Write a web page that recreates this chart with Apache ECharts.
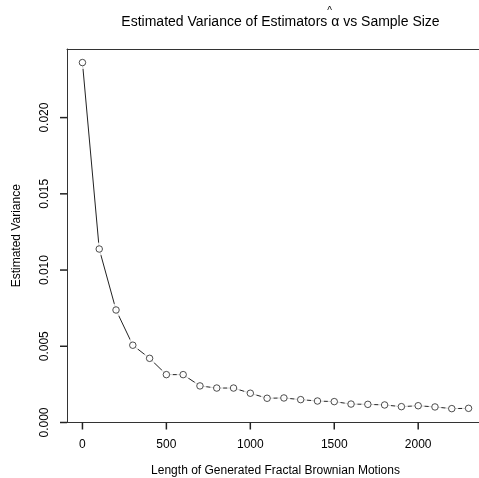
<!DOCTYPE html>
<html>
<head>
<meta charset="utf-8">
<script src="https://cdn.jsdelivr.net/npm/echarts@6/dist/echarts.min.js"></script>
<style>html,body{margin:0;padding:0;background:#fff}#c{width:479px;height:478px}</style>
</head>
<body>
<div id="c"></div>
<script>
var sampleSizes = [0,100,200,300,400,500,600,700,800,900,1000,1100,1200,1300,1400,1500,1600,1700,1800,1900,2000,2100,2200,2300];
var variances = [0.02361,0.01138,0.00738,0.00507,0.00421,0.00314,0.00314,0.00240,0.00226,0.00226,0.00192,0.00159,0.00161,0.00150,0.00141,0.00137,0.00121,0.00119,0.00115,0.00104,0.00110,0.00102,0.00091,0.00093];
var xTicks = [0,500,1000,1500,2000];
var yTicks = [0,0.005,0.010,0.015,0.020];
var yTickLabels = ['0.000','0.005','0.010','0.015','0.020'];
var titlePre = 'Estimated Variance of Estimators ';
var titleSym = '\u03B1';
var titlePost = ' vs Sample Size';
var xMin = -92, xMax = 2392, yMin = 0, yMax = 0.0245;

var pts = sampleSizes.map(function(x,i){return [x, variances[i]];});
var font = 'Liberation Sans, Arial, Helvetica, sans-serif';
var cv = document.createElement('canvas').getContext('2d');
cv.font = '14px ' + font;
var wPre = cv.measureText(titlePre).width, wSym = cv.measureText(titleSym).width;
var wAll = cv.measureText(titlePre + titleSym + titlePost).width;
var titleCx = 275.5;
var hatX = titleCx - wAll/2 + wPre + wSym/2;
var boxColor = '#333';
var tickRich = {width:1.5, height:7, backgroundColor:'#222', fontSize:1, lineHeight:7};

var chart = echarts.init(document.getElementById('c'));
chart.setOption({
  animation:false,
  backgroundColor:'#fff',
  title:{
    text:titlePre + titleSym + titlePost,
    left:titleCx, top:10, textAlign:'center',
    textStyle:{fontFamily:font,fontSize:14,fontWeight:'normal',color:'#000'}
  },
  graphic:[{type:'text', left:hatX-3, top:6, style:{text:'^', font:'10px '+font, fill:'#000'}}],
  grid:{left:67, top:49, right:-5, bottom:55.5, show:false, outerBoundsMode:'none', containLabel:false},
  xAxis:[{
    type:'value', min:xMin, max:xMax, position:'bottom',
    splitLine:{show:false},
    axisLine:{show:true, onZero:false, lineStyle:{color:boxColor,width:1}},
    axisTick:{show:false},
    axisLabel:{fontFamily:font,fontSize:12,color:'#000',margin:0, customValues:xTicks,
      formatter:function(v){return '{t| }\n{n|' + v + '}';},
      rich:{t:tickRich, n:{fontFamily:font,fontSize:12,color:'#000',lineHeight:31}}},
    name:'Length of Generated Fractal Brownian Motions',
    nameLocation:'middle', nameGap:42,
    nameTextStyle:{fontFamily:font,fontSize:12,color:'#000'}
  },{
    type:'value', min:xMin, max:xMax, position:'top',
    splitLine:{show:false},
    axisLine:{show:true, onZero:false, lineStyle:{color:boxColor,width:1}},
    axisTick:{show:false}, axisLabel:{show:false}
  }],
  yAxis:{
    type:'value', min:yMin, max:yMax,
    splitLine:{show:false},
    axisLine:{show:true, onZero:false, lineStyle:{color:boxColor,width:1}},
    axisTick:{show:false},
    axisLabel:{fontFamily:font,fontSize:12,color:'#000',margin:0, rotate:90, customValues:yTicks,
      formatter:function(v){var i=yTicks.indexOf(v);var s=i>=0?yTickLabels[i]:v.toFixed(3);return '{n|' + s + '}\n{t| }';},
      rich:{t:tickRich, n:{fontFamily:font,fontSize:12,color:'#000',lineHeight:30}}},
    name:'Estimated Variance',
    nameLocation:'middle', nameGap:44, nameRotate:90,
    nameTextStyle:{fontFamily:font,fontSize:12,color:'#000'}
  },
  series:[
    {type:'line', data:pts, showSymbol:false, symbol:'none', lineStyle:{color:'#222',width:1}, z:1},
    {type:'scatter', data:pts, symbol:'circle', symbolSize:13, itemStyle:{color:'#fff',borderWidth:0}, z:2, silent:true},
    {type:'scatter', data:pts, symbol:'circle', symbolSize:6.5, itemStyle:{color:'#fff',borderColor:'#222',borderWidth:1}, z:3}
  ]
});
</script>
</body>
</html>
